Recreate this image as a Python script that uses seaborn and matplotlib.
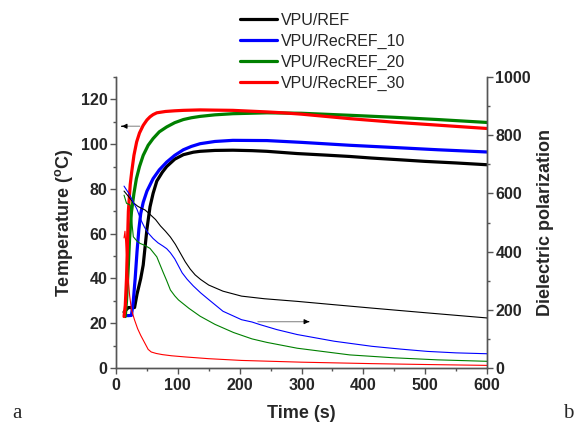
import matplotlib
matplotlib.use("Agg")
import matplotlib.pyplot as plt
import seaborn as sns
import pandas as pd
from matplotlib.ticker import MultipleLocator

sns.set_style("ticks")
plt.rcParams['font.family'] = ['Liberation Sans', 'DejaVu Sans']

# ---------------- data ----------------
series_names = ["VPU/REF", "VPU/RecREF_10", "VPU/RecREF_20", "VPU/RecREF_30"]
series_colors = ["#000000", "#0000FF", "#008000", "#FF0000"]

# Temperature (left axis)
t_ref_T = [13, 20, 30, 34, 40, 44, 50, 55, 60, 66, 75, 82, 95, 109, 125, 136, 160, 189, 220, 244, 293, 340, 378, 413, 460, 500, 550, 600]
T_ref = [25, 27, 27, 33, 40, 46, 62, 72, 78, 83.5, 87.5, 90, 93.3, 95.3, 96.4, 96.8, 97.2, 97.3, 97.1, 96.8, 95.8, 95.1, 94.5, 93.8, 93, 92.3, 91.6, 90.8]

t_10_T = [15, 20, 25, 28, 31, 34, 37, 40, 44, 50, 60, 70, 82, 95, 109, 122, 136, 160, 189, 244, 300, 378, 450, 520, 600]
T_10 = [23.4, 23.4, 23.5, 30, 40, 52, 62, 69, 74, 79, 84.6, 88.5, 92, 95, 97.5, 99, 100.2, 101.2, 101.7, 101.6, 100.8, 99.5, 98.5, 97.5, 96.5]

t_20_T = [15, 17, 20, 22, 25, 29, 33, 38, 44, 52, 60, 70, 82, 95, 109, 122, 136, 160, 189, 244, 300, 378, 450, 520, 600]
T_20 = [23, 30, 46, 58, 69.7, 78, 84.6, 90, 95, 99.5, 102.5, 105.5, 107.7, 109.6, 111, 111.8, 112.4, 113.1, 113.6, 114, 113.8, 112.9, 112, 111, 109.7]

t_30_T = [13, 15, 17, 20, 23, 25.4, 29, 33.4, 38, 44, 50, 55, 60, 66, 80, 95, 109, 136, 160, 189, 244, 270, 300, 378, 450, 520, 600]
T_30 = [23, 28, 40, 70, 82, 87.6, 95, 101, 105, 108.4, 110.8, 112.2, 113.2, 114, 114.6, 114.9, 115.1, 115.3, 115.2, 115.1, 114.4, 114, 113.4, 111.4, 109.8, 108.5, 107]

# Dielectric polarization (right axis)
t_ref_D = [13, 20, 28, 35, 40, 47, 55, 64, 72, 80, 88, 96, 104, 112, 120, 128, 137, 150, 173, 203, 240, 293, 350, 413, 500, 600]
D_ref = [608, 590, 568, 556, 550, 543, 528, 510, 488, 470, 450, 425, 395, 365, 340, 320, 304, 285, 264, 247, 238, 229, 218, 206, 190, 172]

t_10_D = [13, 17, 22, 28, 34, 40, 46, 52, 60, 68, 76, 82, 88, 95, 100, 107, 115, 125, 137, 150, 173, 203, 220, 233, 260, 293, 353, 414, 460, 504, 550, 600]
D_10 = [625, 612, 596, 570, 545, 510, 484, 464, 445, 430, 419, 410, 396, 375, 355, 327, 305, 282, 258, 235, 195, 166, 158, 149, 132, 115, 92, 74.5, 65, 57, 52, 49]

t_20_D = [13, 17, 23, 28, 34, 39, 46, 55, 66, 76, 82, 88, 95, 101, 108, 118, 136, 160, 190, 220, 244, 293, 378, 450, 520, 600]
D_20 = [594, 566, 560, 451, 436, 428, 422, 411, 382, 330, 300, 268, 248, 234, 222, 205, 178, 150, 122, 100, 88, 68, 45, 35, 28, 23]

t_30_D = [13, 14.5, 16, 19, 22, 25, 30, 35, 40, 46, 52, 57, 65, 75, 90, 112, 150, 203, 300, 414, 500, 600]
D_30 = [447, 470, 420, 330, 250, 200, 165, 135, 112, 88, 64, 55, 50, 46, 42, 38, 32, 26, 20, 15, 12, 9]

temp_t = [t_ref_T, t_10_T, t_20_T, t_30_T]
temp_v = [T_ref, T_10, T_20, T_30]
diel_t = [t_ref_D, t_10_D, t_20_D, t_30_D]
diel_v = [D_ref, D_10, D_20, D_30]

# ---------------- figure ----------------
fig = plt.figure(figsize=(5.82, 4.25), dpi=100)
ax = fig.add_axes([116/582, 57/425, 371/582, 291/425])
ax2 = ax.twinx()

handles = []
for name, col, tt, vv in zip(series_names, series_colors, temp_t, temp_v):
    df = pd.DataFrame({"t": tt, "v": vv})
    sns.lineplot(data=df, x="t", y="v", ax=ax, color=col, lw=2.3, sort=False,
                 estimator=None, label=name, legend=False)
    handles.append(ax.lines[-1])

for name, col, tt, vv in zip(series_names, series_colors, diel_t, diel_v):
    df = pd.DataFrame({"t": tt, "v": vv})
    sns.lineplot(data=df, x="t", y="v", ax=ax2, color=col, lw=0.8, sort=False,
                 estimator=None, legend=False)

ax.set_xlim(0, 600)
ax.set_ylim(0, 130)
ax2.set_ylim(0, 1000)
ax.set_xticks([0, 100, 200, 300, 400, 500, 600])
ax.set_yticks([0, 20, 40, 60, 80, 100, 120])
ax2.set_yticks([0, 200, 400, 600, 800, 1000])
ax.xaxis.set_minor_locator(MultipleLocator(50))
ax.yaxis.set_minor_locator(MultipleLocator(10))
ax2.yaxis.set_minor_locator(MultipleLocator(100))

spine_col = "#555555"
for a in (ax, ax2):
    a.spines['top'].set_visible(False)
    for s in a.spines.values():
        s.set_color(spine_col)
        s.set_linewidth(1.0)
    a.tick_params(which='major', direction='out', length=4, width=1, color=spine_col,
                  labelsize=11.5)
    a.tick_params(which='minor', direction='out', length=2.5, width=1, color=spine_col)
ax.tick_params(axis='x', pad=3)
ax.tick_params(axis='y', pad=2)
ax2.tick_params(axis='y', pad=2)
for lab in ax.get_xticklabels() + ax.get_yticklabels() + ax2.get_yticklabels():
    lab.set_fontweight('bold')

ax.set_xlabel("Time (s)", fontsize=13, fontweight='bold', labelpad=9)
ax.set_ylabel(r"Temperature ($^\mathregular{o}$C)", fontsize=13, fontweight='bold', labelpad=4)
ax2.set_ylabel("Dielectric polarization", fontsize=13, fontweight='bold', labelpad=4)

# arrows
ax.annotate("", xy=(5, 108), xytext=(43, 108),
            arrowprops=dict(arrowstyle='-', color='#999999', lw=0.9))
ax.annotate("", xy=(5, 108), xytext=(14, 108),
            arrowprops=dict(arrowstyle='-|>', color='black', lw=0.8, mutation_scale=7))
ax.annotate("", xy=(317, 20.7), xytext=(225, 20.7),
            arrowprops=dict(arrowstyle='-', color='#999999', lw=0.9))
ax.annotate("", xy=(317, 20.7), xytext=(306, 20.7),
            arrowprops=dict(arrowstyle='-|>', color='black', lw=0.8, mutation_scale=7))

fig.legend(handles, series_names, loc='upper left', bbox_to_anchor=(240/582, 1 - 13/425),
           frameon=False, fontsize=11.5, borderpad=0, labelspacing=0.36,
           handlelength=2.3, handletextpad=0.25, borderaxespad=0)

fig.text(12/582, 2/425, "a", family='Liberation Serif', fontsize=15, va='bottom')
fig.text(563/582, 2/425, "b", family='Liberation Serif', fontsize=15, va='bottom')

fig.savefig("out.png", dpi=100)
